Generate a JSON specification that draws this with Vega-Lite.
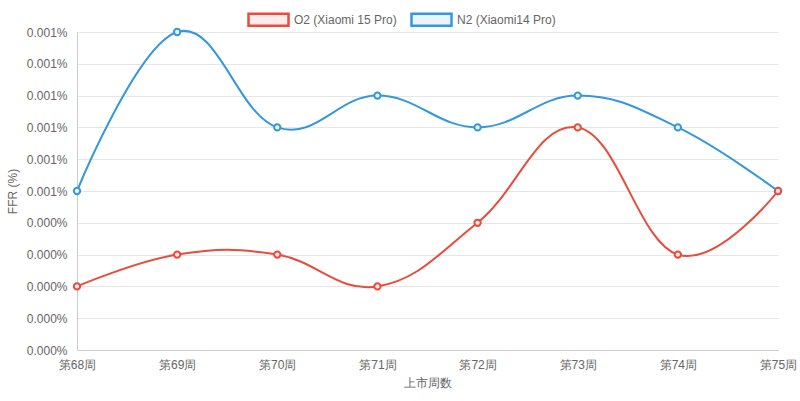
{
  "$schema": "https://vega.github.io/schema/vega-lite/v6.json",
  "width": 701,
  "height": 318,
  "autosize": "none",
  "padding": {"left": 77, "top": 32, "right": 22, "bottom": 51},
  "background": "white",
  "config": {
    "font": "Liberation Sans",
    "view": {"stroke": null},
    "axis": {
      "labelColor": "#666",
      "labelFontSize": 12,
      "titleColor": "#666",
      "titleFontSize": 12,
      "titleFontWeight": "normal",
      "gridColor": "#e6e6e6",
      "domainColor": "#cccccc",
      "ticks": false
    },
    "legend": {
      "title": null,
      "orient": "none",
      "legendX": 170,
      "legendY": -34,
      "direction": "horizontal",
      "symbolType": "M-1,-0.3H1V0.3H-1Z",
      "symbolSize": 1600,
      "symbolStrokeWidth": 2.5,
      "labelFontSize": 12,
      "labelColor": "#666",
      "labelOffset": 4,
      "columnPadding": 9
    }
  },
  "data": {
    "values": [
      {"week": "第68周", "series": "N2 (Xiaomi14 Pro)", "ffr": 0.0005},
      {"week": "第69周", "series": "N2 (Xiaomi14 Pro)", "ffr": 0.001},
      {"week": "第70周", "series": "N2 (Xiaomi14 Pro)", "ffr": 0.0007},
      {"week": "第71周", "series": "N2 (Xiaomi14 Pro)", "ffr": 0.0008},
      {"week": "第72周", "series": "N2 (Xiaomi14 Pro)", "ffr": 0.0007},
      {"week": "第73周", "series": "N2 (Xiaomi14 Pro)", "ffr": 0.0008},
      {"week": "第74周", "series": "N2 (Xiaomi14 Pro)", "ffr": 0.0007},
      {"week": "第75周", "series": "N2 (Xiaomi14 Pro)", "ffr": 0.0005},
      {"week": "第68周", "series": "O2 (Xiaomi 15 Pro)", "ffr": 0.0002},
      {"week": "第69周", "series": "O2 (Xiaomi 15 Pro)", "ffr": 0.0003},
      {"week": "第70周", "series": "O2 (Xiaomi 15 Pro)", "ffr": 0.0003},
      {"week": "第71周", "series": "O2 (Xiaomi 15 Pro)", "ffr": 0.0002},
      {"week": "第72周", "series": "O2 (Xiaomi 15 Pro)", "ffr": 0.0004},
      {"week": "第73周", "series": "O2 (Xiaomi 15 Pro)", "ffr": 0.0007},
      {"week": "第74周", "series": "O2 (Xiaomi 15 Pro)", "ffr": 0.0003},
      {"week": "第75周", "series": "O2 (Xiaomi 15 Pro)", "ffr": 0.0005}
    ]
  },
  "encoding": {
    "x": {
      "field": "week",
      "type": "ordinal",
      "sort": null,
      "title": "上市周数",
      "scale": {"type": "point", "padding": 0},
      "axis": {"labelAngle": 0, "labelPadding": 9, "titlePadding": 7, "grid": false}
    },
    "y": {
      "field": "ffr",
      "type": "quantitative",
      "title": "FFR (%)",
      "scale": {"domain": [0, 0.001], "nice": false},
      "axis": {
        "values": [0, 0.0001, 0.0002, 0.0003, 0.0004, 0.0005, 0.0006, 0.0007, 0.0008, 0.0009, 0.001],
        "labelExpr": "format(datum.value, '.3f') + '%'",
        "labelPadding": 10,
        "titlePadding": 7
      }
    }
  },
  "layer": [
    {
      "mark": {"type": "line", "interpolate": "cardinal", "tension": -0.2, "strokeWidth": 2},
      "encoding": {
        "stroke": {
          "field": "series",
          "type": "nominal",
          "scale": {"domain": ["O2 (Xiaomi 15 Pro)", "N2 (Xiaomi14 Pro)"], "range": ["#e74c3c", "#3498db"]},
          "legend": {
            "encode": {
              "symbols": {"update": {"fill": {"scale": "fill", "field": "value"}}}
            }
          }
        }
      }
    },
    {
      "mark": {"type": "point", "shape": "circle", "size": 40, "strokeWidth": 2, "opacity": 1},
      "encoding": {
        "stroke": {
          "field": "series",
          "type": "nominal",
          "scale": {"domain": ["O2 (Xiaomi 15 Pro)", "N2 (Xiaomi14 Pro)"], "range": ["#e74c3c", "#3498db"]}
        },
        "fill": {
          "field": "series",
          "type": "nominal",
          "scale": {"domain": ["O2 (Xiaomi 15 Pro)", "N2 (Xiaomi14 Pro)"], "range": ["#fdeceb", "#eaf4fb"]},
          "legend": null
        }
      }
    }
  ]
}
